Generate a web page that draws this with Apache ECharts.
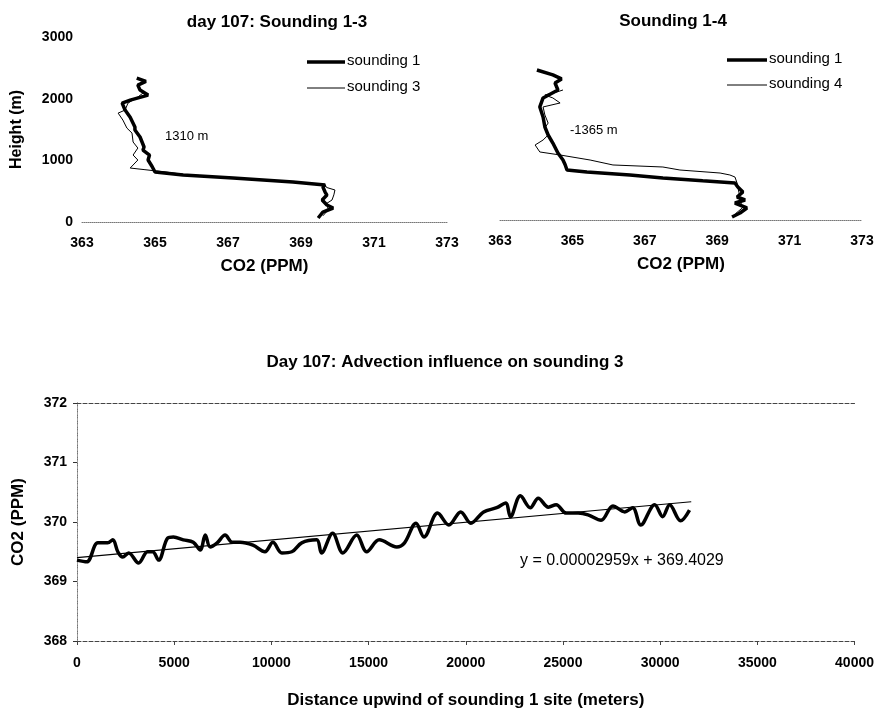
<!DOCTYPE html>
<html><head><meta charset="utf-8">
<script src="https://cdn.jsdelivr.net/npm/echarts@6/dist/echarts.min.js"></script>
<style>html,body{margin:0;padding:0;background:#fff}#c{width:877px;height:715px}</style>
</head><body><div id="c"></div>
<script>
// ---- Top-left: sounding 1 vs sounding 3 (CO2 ppm vs height m)
const s1aHeight = [65,162,227,276,357,437,486,567,600,650,713,762,810,840,900,1005,1086,1167,1216,1378,1491,1540,1700,1815,1928,1977,2058,2139,2220,2280,2334];
const s1aCO2    = [369.47,369.60,369.88,369.71,369.58,369.71,369.66,369.60,369.66,368.78,367.14,365.77,365.0,364.95,364.92,364.81,364.85,364.67,364.70,364.59,364.45,364.45,364.32,364.18,364.10,364.32,364.81,364.59,364.53,364.75,364.50];
const s3Height  = [100,200,300,357,440,519,560,600,650,713,762,810,850,875,891,1005,1086,1199,1297,1442,1523,1653,1766,1815,1928,2026,2091,2150];
const s3CO2     = [369.60,369.75,369.70,369.85,369.90,369.93,369.70,369.66,368.78,367.20,365.90,365.30,364.70,364.32,364.37,364.53,364.40,364.53,364.40,364.37,364.23,364.12,363.99,364.18,364.26,364.53,364.67,364.60];
// ---- Top-right: sounding 1 vs sounding 4
const s1bHeight = [49,114,196,277,326,375,457,538,604,640,685,734,783,815,900,978,1092,1255,1386,1516,1680,1843,1990,2120,2234,2300,2365,2445];
const s1bCO2    = [369.41,369.63,369.82,369.49,369.77,369.55,369.71,369.57,369.49,368.60,367.50,366.59,365.40,364.85,364.80,364.74,364.60,364.46,364.33,364.24,364.19,364.10,364.19,364.60,364.52,364.70,364.46,364.02];
const s4Height  = [100,200,326,450,600,701,734,766,815,864,897,978,1060,1109,1223,1304,1386,1500,1581,1712,1843,1908,1990,2038,2087,2120];
const s4CO2     = [369.50,369.70,369.63,369.60,369.55,369.49,369.35,369.08,367.97,367.50,366.12,365.49,364.66,364.10,363.97,364.19,364.33,364.24,364.33,364.24,364.19,364.66,364.46,364.24,364.57,364.74];
// ---- Bottom: advection influence
const advDist = [0,500,1074,1580,1840,2100,2350,2660,3170,3630,3890,4200,4660,4960,5470,5980,6340,6600,6850,7210,7620,7980,8390,9050,9670,10080,10540,11050,11560,12330,12580,13150,13680,14390,14900,15550,16450,16850,17440,17850,18550,19130,19740,20260,20920,21590,22050,22300,22810,23320,23730,24250,24650,25170,25780,26290,26960,27570,28180,28590,29000,29720,30130,30490,31050,31510];
const advCO2  = [369.36,369.33,369.65,369.65,369.70,369.50,369.41,369.48,369.31,369.50,369.50,369.36,369.73,369.75,369.70,369.66,369.53,369.78,369.58,369.65,369.78,369.66,369.66,369.61,369.50,369.66,369.48,369.50,369.65,369.70,369.48,369.81,369.48,369.78,369.50,369.70,369.58,369.65,369.98,369.75,370.15,369.95,370.17,369.98,370.17,370.24,370.32,370.09,370.44,370.24,370.40,370.25,370.29,370.15,370.15,370.12,370.03,370.27,370.17,370.24,369.95,370.29,370.09,370.29,370.02,370.20];
const trendDist = [0,31600];
const trendCO2  = [369.40,370.34];
const equationText = 'y = 0.00002959x + 369.4029';

const zip = (a,b) => a.map((v,i)=>[v,b[i]]);
const F = "'Liberation Sans', Arial, sans-serif";
const plain = v => String(v);
const lblBold = {color:'#000', fontFamily:F, fontWeight:'bold', fontSize:14, formatter:plain};
const nameStyle = {color:'#000', fontFamily:F, fontWeight:'bold', fontSize:17};

function topX(gi){
  return {gridIndex:gi, type:'value', min:363, max:373, interval:2,
    axisLine:{show:true, onZero:false, lineStyle:{color:'#777', type:'dotted', width:1}},
    axisTick:{show:false}, splitLine:{show:false},
    axisLabel:Object.assign({margin:14}, lblBold),
    name:'CO2 (PPM)', nameLocation:'middle', nameGap:36, nameTextStyle:nameStyle};
}
function topY(gi, labels){
  return {gridIndex:gi, type:'value', min:0, max:3000, interval:1000,
    axisLine:{show:false}, axisTick:{show:false}, splitLine:{show:false},
    axisLabel:Object.assign({show:labels, margin:9}, lblBold),
    name: labels ? 'Height (m)' : '', nameLocation:'middle', nameGap:57,
    nameTextStyle:Object.assign({}, nameStyle, {fontSize:16})};
}

const chart = echarts.init(document.getElementById('c'), null, {renderer:'canvas'});
chart.setOption({
  animation:false,
  backgroundColor:'#fff',
  title:[
    {text:'day 107: Sounding 1-3', left:272, top:9, textAlign:'center', textStyle:{fontFamily:F, fontWeight:'bold', fontSize:17, color:'#000'}},
    {text:'Sounding 1-4', left:668, top:8, textAlign:'center', textStyle:{fontFamily:F, fontWeight:'bold', fontSize:17, color:'#000'}},
    {text:'Day 107: Advection influence on sounding 3', left:440, top:349, textAlign:'center', textStyle:{fontFamily:F, fontWeight:'bold', fontSize:17, color:'#000'}}
  ],
  grid:[
    {left:82, top:37, width:365, height:185},
    {left:500, top:36, width:362, height:184},
    {left:77, top:403, width:779, height:238}
  ],
  xAxis:[
    topX(0), topX(1),
    {gridIndex:2, type:'value', min:0, max:40000, interval:5000,
      axisLine:{show:true, onZero:false, lineStyle:{color:'#444', type:'dashed', width:1}},
      axisTick:{show:true, length:4, lineStyle:{color:'#444'}}, splitLine:{show:false},
      axisLabel:Object.assign({margin:15}, lblBold),
      name:'Distance upwind of sounding 1 site (meters)', nameLocation:'middle', nameGap:51, nameTextStyle:nameStyle},
    {gridIndex:2, type:'value', position:'top', min:0, max:40000,
      axisLine:{show:true, lineStyle:{color:'#444', type:'dashed', width:1}},
      axisTick:{show:false}, axisLabel:{show:false}, splitLine:{show:false}}
  ],
  yAxis:[
    topY(0, true), topY(1, false),
    {gridIndex:2, type:'value', min:368, max:372, interval:1,
      axisLine:{show:true, onZero:false, lineStyle:{color:'#333', type:'dashed', width:1}},
      axisTick:{show:true, length:4, lineStyle:{color:'#333'}}, splitLine:{show:false},
      axisLabel:Object.assign({margin:10}, lblBold),
      name:'CO2 (PPM)', nameLocation:'middle', nameGap:50, nameTextStyle:nameStyle},
    {gridIndex:2, type:'value', position:'right', min:368, max:372,
      axisLine:{show:true, lineStyle:{color:'#999', type:'dotted', width:1}},
      axisTick:{show:false}, axisLabel:{show:false}, splitLine:{show:false}}
  ],
  series:[
    {name:'sounding 1', type:'line', xAxisIndex:0, yAxisIndex:0, data:zip(s1aCO2, s1aHeight), showSymbol:false, lineStyle:{color:'#000', width:3.5}, z:3},
    {name:'sounding 3', type:'line', xAxisIndex:0, yAxisIndex:0, data:zip(s3CO2, s3Height), showSymbol:false, lineStyle:{color:'#000', width:1}, z:4},
    {name:'sounding 1', type:'line', xAxisIndex:1, yAxisIndex:1, data:zip(s1bCO2, s1bHeight), showSymbol:false, lineStyle:{color:'#000', width:3.5}, z:3},
    {name:'sounding 4', type:'line', xAxisIndex:1, yAxisIndex:1, data:zip(s4CO2, s4Height), showSymbol:false, lineStyle:{color:'#000', width:1}, z:4},
    {name:'advection', type:'line', xAxisIndex:2, yAxisIndex:2, data:zip(advDist, advCO2), showSymbol:false, smooth:0.35, lineStyle:{color:'#000', width:3.5}, z:3},
    {name:'trend', type:'line', xAxisIndex:2, yAxisIndex:2, data:zip(trendDist, trendCO2), showSymbol:false, lineStyle:{color:'#000', width:1.2}, z:4}
  ],
  graphic:[
    {type:'line', shape:{x1:307, y1:62, x2:345, y2:62}, style:{stroke:'#000', lineWidth:3.5}},
    {type:'text', left:347, top:53, style:{text:'sounding 1', font:"15px "+F, fill:'#000'}},
    {type:'line', shape:{x1:307, y1:88, x2:345, y2:88}, style:{stroke:'#000', lineWidth:1}},
    {type:'text', left:347, top:79, style:{text:'sounding 3', font:"15px "+F, fill:'#000'}},
    {type:'line', shape:{x1:727, y1:60, x2:767, y2:60}, style:{stroke:'#000', lineWidth:3.5}},
    {type:'text', left:769, top:51, style:{text:'sounding 1', font:"15px "+F, fill:'#000'}},
    {type:'line', shape:{x1:727, y1:85, x2:767, y2:85}, style:{stroke:'#000', lineWidth:1}},
    {type:'text', left:769, top:76, style:{text:'sounding 4', font:"15px "+F, fill:'#000'}},
    {type:'text', left:165, top:130, style:{text:'1310 m', font:"13px "+F, fill:'#000'}},
    {type:'text', left:570, top:124, style:{text:'-1365 m', font:"13px "+F, fill:'#000'}},
    {type:'text', left:520, top:553, style:{text:equationText, font:"16px "+F, fill:'#000'}}
  ]
});
</script></body></html>
